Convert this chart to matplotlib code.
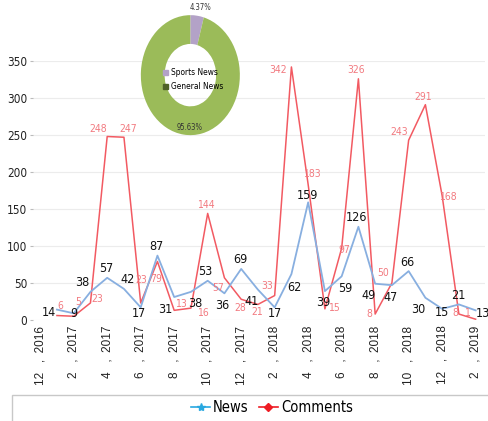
import matplotlib.pyplot as plt
from matplotlib.lines import Line2D
from matplotlib.patches import Patch, Rectangle

plt.rcParams['font.family'] = ['DejaVu Sans']
plt.rcParams['font.stretch'] = 'condensed'

# Data (month index: 0 = Dec 2016, 1 = Jan 2017 ... 26 = Feb 2019)
months = list(range(1, 27))
news = [14, 9, 38, 57, 42, 17, 87, 31, 38, 53, 36, 69, 41, 17, 62, 159, 39, 59,
        126, 49, 47, 66, 30, 15, 21, 13]
comments = [6, 5, 23, 248, 247, 23, 79, 13, 16, 144, 57, 28, 21, 33, 342, 183, 15,
            97, 326, 8, 50, 243, 291, 168, 8, 1]
tick_months = [12, 2, 4, 6, 8, 10, 12, 2, 4, 6, 8, 10, 12, 2]
tick_years = [2016, 2017, 2017, 2017, 2017, 2017, 2017, 2018, 2018, 2018, 2018, 2018, 2018, 2019]
share_names = ["Sports News", "General News"]
share_values = [4.37, 95.63]

# label offsets in pixels (dx, dy)
news_off = [(-8, -3), (0, 0), (-8, 9), (-1, 9), (4, 9), (-2, -6), (-1, 9), (-9, -12),
            (4, -12), (-2, 9), (-2, -12), (-1, 9), (-6, -12), (0, -6), (3, -13), (-1, 7),
            (-2, -11), (4, -12), (-2, 9), (-7, -12), (-1, -12), (-1, 9), (-7, -12),
            (0, -4), (-1, 9), (7, -3)]
comm_off = [(3, 10), (5, 14), (7, 4), (-9, 8), (4, 8), (1, 23), (-1, -17), (7, 6),
            (12, -5), (-2, 8), (-6, -10), (-1, -9), (-1, -8), (-8, 10), (-13, -3),
            (4, 11), (9, 1), (3, -2), (-2, 9), (-6, 0), (-9, 10), (-9, 8), (-2, 8),
            (6, -1), (-4, 1), (-9, 6)]

blue = '#88afe0'
red = '#f25a62'
red_txt = '#f27a80'

fig = plt.figure(figsize=(4.89, 4.21), dpi=100)
ax = fig.add_axes([0.0675, 0.240, 0.924, 0.615])

ax.plot(months, news, color=blue, lw=1.3, zorder=3)
ax.plot(months, comments, color=red, lw=1.1, zorder=2)

for x, v, (dx, dy) in zip(months, news, news_off):
    ax.annotate(str(v), (x, v), xytext=(dx, dy), textcoords='offset pixels',
                ha='center', va='center', fontsize=9, color='#111111', zorder=5)
for x, v, (dx, dy) in zip(months, comments, comm_off):
    ax.annotate(str(v), (x, v), xytext=(dx, dy), textcoords='offset pixels',
                ha='center', va='center', fontsize=7.5, color=red_txt, zorder=5)

ax.set_xlim(-0.43, 26.55)
ax.set_ylim(0, 350)
ax.set_yticks(range(0, 351, 50))
ax.tick_params(axis='y', length=2, color='#bbbbbb', labelsize=8.5, labelcolor='#222222', pad=2)
ax.set_xticks(range(0, 27, 2))
ax.set_xticklabels([f"{m}   ,  {y}" for m, y in zip(tick_months, tick_years)],
                   rotation=90, fontsize=8.5, family=['Liberation Sans', 'DejaVu Sans'],
                   color='#222222')
ax.tick_params(axis='x', length=0, pad=4)
for s in ax.spines.values():
    s.set_visible(False)
ax.yaxis.grid(True, color='#ececec', lw=0.8)
ax.set_axisbelow(True)

# donut inset
axp = fig.add_axes([0.288, 0.679, 0.2025, 0.285])
axp.pie(share_values, colors=['#b3a2c7', '#9bbb59'], startangle=90, counterclock=False,
        wedgeprops=dict(width=0.48, edgecolor='none'))
axp.set_aspect('auto')
axp.set_xlim(-1, 1)
axp.set_ylim(-1, 1)
axp.text(0.2, 1.13, f"{share_values[0]:.2f}%", fontsize=5.5, ha='center', va='center',
         color='#333333', clip_on=False)
axp.text(-0.01, -0.87, f"{share_values[1]:.2f}%", fontsize=5.5, ha='center', va='center',
         color='#333333', clip_on=False)
axp.legend(handles=[Patch(color='#b3a2c7', label=share_names[0]),
                    Patch(color='#4f6228', label=share_names[1])],
           loc='center', bbox_to_anchor=(0.53, 0.46), frameon=False, fontsize=6,
           handlelength=0.5, handleheight=0.5, handletextpad=0.4, labelspacing=0.6)

# bottom legend with box
fig.patches.append(Rectangle((0.0245, -0.05), 1.0, 0.1118, transform=fig.transFigure,
                             fill=False, edgecolor='#c8c8c8', lw=1))
handles = [Line2D([], [], color='#29a8e0', marker='*', markersize=6, lw=1.2, label='News'),
           Line2D([], [], color='#ee1c24', marker='D', markersize=4, lw=1.2, label='Comments')]
fig.legend(handles=handles, loc='center', bbox_to_anchor=(272 / 489, 1 - 408 / 421),
           ncol=2, frameon=False, fontsize=10.5, handlelength=1.3, columnspacing=0.7,
           handletextpad=0.2)

fig.savefig('out.png', dpi=100)
